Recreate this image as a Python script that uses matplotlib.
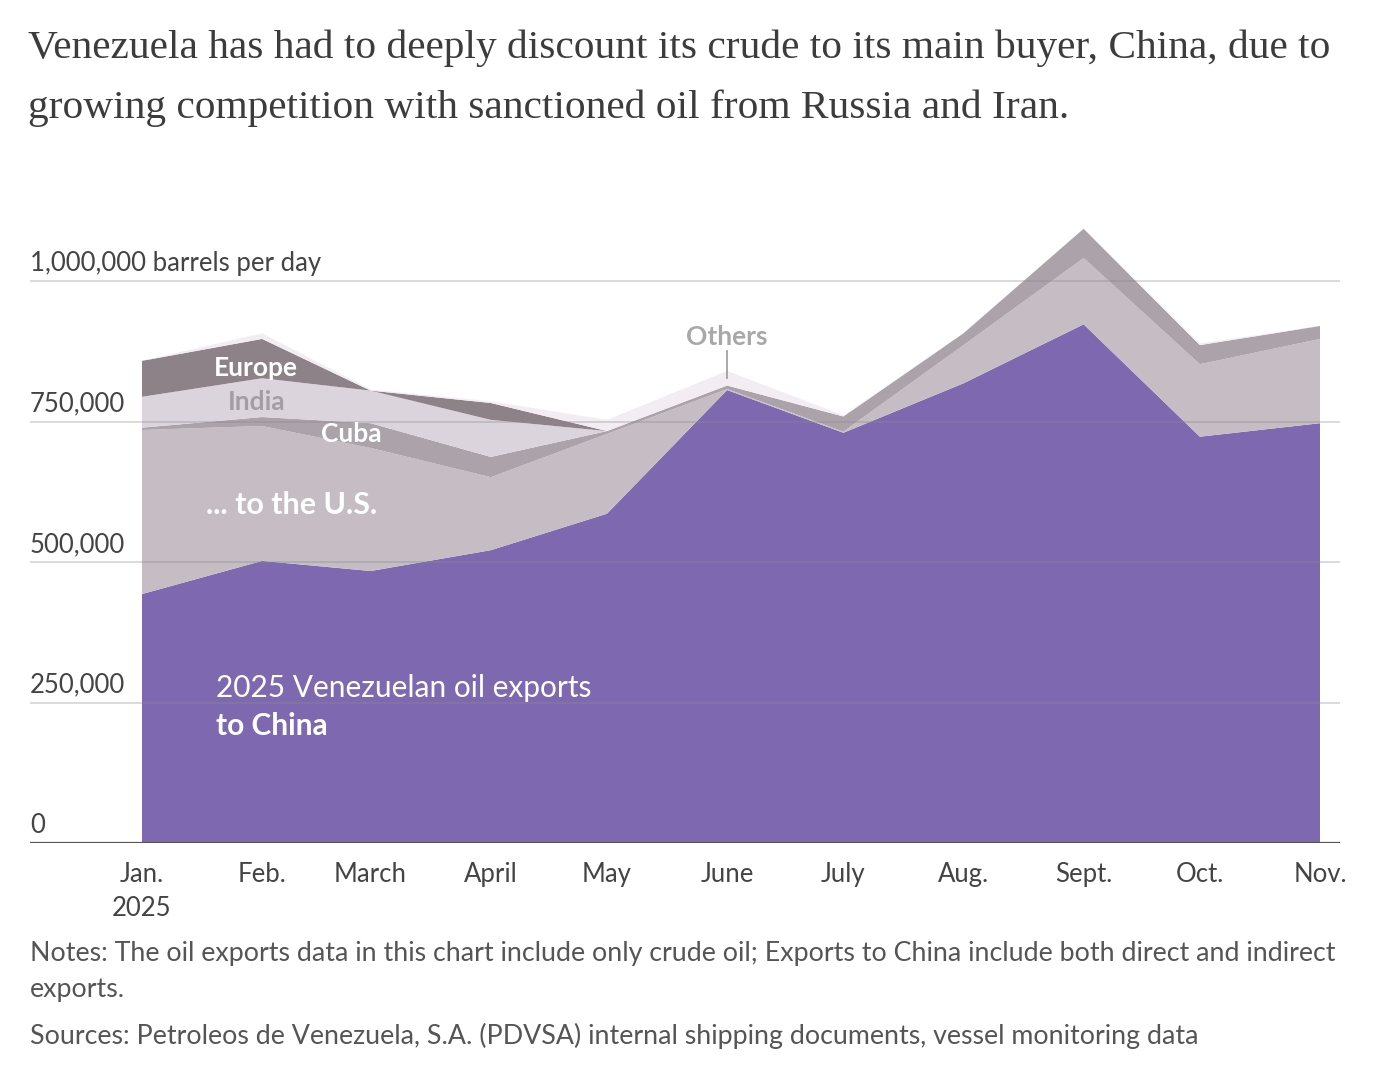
import matplotlib
matplotlib.use('Agg')
import matplotlib.pyplot as plt
import matplotlib.transforms as mtransforms
import matplotlib.dates as mdates
import numpy as np
import pandas as pd

# Venezuelan crude exports by destination, thousand barrels per day
months = ['Jan.\n2025', 'Feb.', 'March', 'April', 'May', 'June', 'July', 'Aug.', 'Sept.', 'Oct.', 'Nov.']
dates = pd.to_datetime(['2025-01-01', '2025-02-01', '2025-03-01', '2025-04-01', '2025-05-01',
                        '2025-06-01', '2025-07-01', '2025-08-01', '2025-09-01', '2025-10-01',
                        '2025-11-01'])
china = [443, 502, 484, 521, 586, 806, 730, 818, 923, 723, 747]
us = [292, 240, 219, 130, 142, 2, 2, 68, 118, 129, 150]
cuba = [4, 16, 44, 36, 5, 6, 27, 21, 52, 34, 23]
india = [55, 69, 58, 66, 0, 0, 0, 0, 0, 0, 0]
europe = [64, 70, 0, 30, 0, 0, 0, 0, 0, 0, 0]
others = [0, 10, 2, 3, 20, 26, 2, 0, 0, 3, 0]

y_ticks = [0, 250, 500, 750, 1000]
y_labels = ['0', '250,000', '500,000', '750,000', '1,000,000 barrels per day']

colors = ['#7e69b0', '#c5bcc4', '#aba2aa', '#dcd4dc', '#8e8289', '#f3edf3']

SANS = 'Lato'
W, H = 1390, 1082

fig = plt.figure(figsize=(W / 100, H / 100), dpi=100)
ax = fig.add_axes([30 / W, (H - 843) / H, 1310 / W, (843 - 213.6) / H])

x = mdates.date2num(dates)
ax.stackplot(x, china, us, cuba, india, europe, others, colors=colors,
             linewidth=0, zorder=1)

px_per_day = (1320 - 142) / (x[-1] - x[0])
ax.set_xlim(x[0] - 112 / px_per_day, x[-1] + 20 / px_per_day)
ax.set_ylim(0, 1120)

for s in ax.spines.values():
    s.set_visible(False)
ax.set_yticks([])
ax.set_xticks(x)
ax.set_xticklabels(months, fontsize=18.5, color='#444444', family=SANS,
                   linespacing=1.45)
ax.tick_params(axis='x', length=0, pad=14)

# gridlines drawn over the areas, slightly see-through
for v in y_ticks[1:]:
    ax.axhline(v, color='#8a8a8a', lw=1.1, alpha=0.4, zorder=3)
ax.axhline(0, color='#555555', lw=1.6, zorder=4)

trans = mtransforms.blended_transform_factory(ax.transAxes, ax.transData)
for v, lab in zip(y_ticks, y_labels):
    ax.text(0, v + 9, lab, transform=trans, ha='left', va='bottom',
            fontsize=18.5, color='#444444', family=SANS)

# series labels
def lab(i, y, s, size, color='white', weight='bold', ha='center', dx=0):
    ax.text(x[i] + dx, y, s, ha=ha, va='center', fontsize=size, color=color,
            fontweight=weight, family=SANS, zorder=5)

lab(1, 846, 'Europe', 19, dx=-1.5)
lab(1, 784, 'India', 19, color='#a59ca4', dx=-1.5)
lab(2, 728, 'Cuba', 19, dx=-5)
lab(1, 601, '... to the U.S.', 22, dx=7.5)
lab(0, 275, '2025 Venezuelan oil exports', 21.5, weight='normal', ha='left', dx=19)
lab(0, 208, 'to China', 21.5, ha='left', dx=19)
lab(5, 900, 'Others', 19, color='#a8a8a8')
ax.plot([x[5], x[5]], [828, 876], color='#999999', lw=1.2, zorder=5)

fig.text(28 / W, 1 - 48 / H, 'Venezuela has had to deeply discount its crude to its main buyer, China, due to',
         ha='left', va='center', fontsize=29.8, color='#3c3c3c', family='Liberation Serif')
fig.text(28 / W, 1 - 108 / H, 'growing competition with sanctioned oil from Russia and Iran.',
         ha='left', va='center', fontsize=29.8, color='#3c3c3c', family='Liberation Serif')

fig.text(30 / W, 1 - 954 / H, 'Notes: The oil exports data in this chart include only crude oil; Exports to China include both direct and indirect',
         ha='left', va='center', fontsize=19.3, color='#555555', family=SANS)
fig.text(30 / W, 1 - 990 / H, 'exports.',
         ha='left', va='center', fontsize=19.3, color='#555555', family=SANS)
fig.text(30 / W, 1 - 1036 / H, 'Sources: Petroleos de Venezuela, S.A. (PDVSA) internal shipping documents, vessel monitoring data',
         ha='left', va='center', fontsize=19.3, color='#555555', family=SANS)

fig.savefig('out.png', dpi=100, facecolor='white')
